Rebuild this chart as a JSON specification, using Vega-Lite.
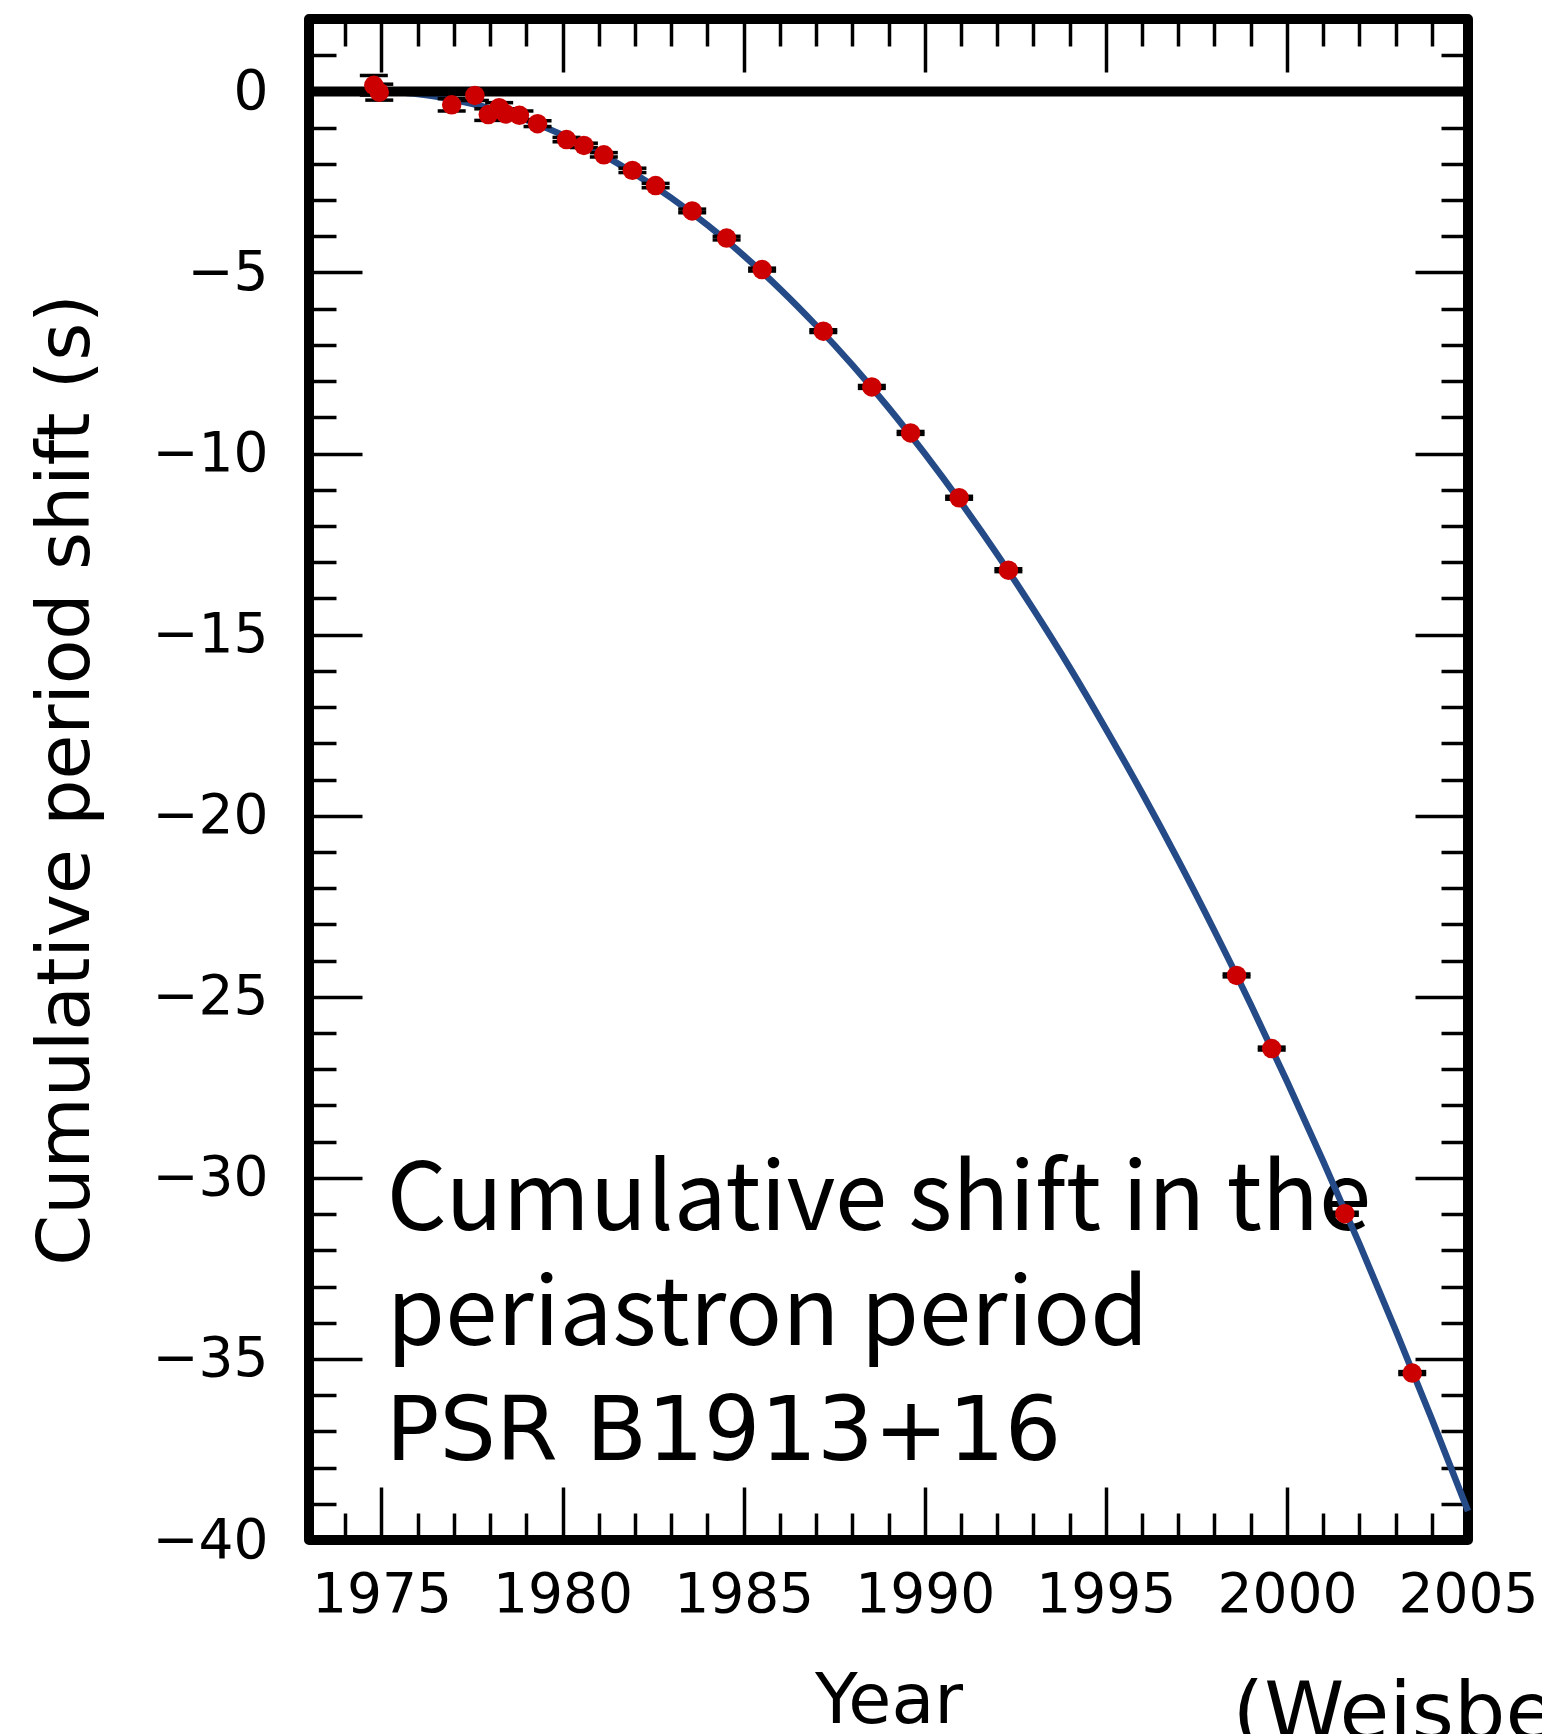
{
  "$schema": "https://vega.github.io/schema/vega-lite/v6.json",
  "width": 1159,
  "height": 1521,
  "autosize": {"type": "none"},
  "padding": {"left": 309, "top": 19, "right": 74, "bottom": 194},
  "background": "white",
  "config": {
    "view": {"stroke": "black", "strokeWidth": 10, "strokeJoin": "round"},
    "axis": {
      "grid": false,
      "domain": false,
      "tickColor": "black",
      "tickWidth": 3.5,
      "labelFont": "DejaVu Sans",
      "labelFontSize": 55,
      "labelColor": "black",
      "titleFont": "DejaVu Sans",
      "titleFontWeight": "normal",
      "titleColor": "black",
      "labelOverlap": false,
      "labelFlush": false
    }
  },
  "datasets": {
    "points": [
      {"year": 1974.79, "shift": 0.17, "lo": -0.10, "hi": 0.44},
      {"year": 1974.94, "shift": -0.02, "lo": -0.24, "hi": 0.20},
      {"year": 1976.94, "shift": -0.37, "lo": -0.54, "hi": -0.20},
      {"year": 1977.58, "shift": -0.11, "lo": -0.25, "hi": 0.03},
      {"year": 1977.95, "shift": -0.64, "lo": -0.80, "hi": -0.48},
      {"year": 1978.25, "shift": -0.45, "lo": -0.59, "hi": -0.31},
      {"year": 1978.43, "shift": -0.62, "lo": -0.76, "hi": -0.48},
      {"year": 1978.81, "shift": -0.66, "lo": -0.78, "hi": -0.54},
      {"year": 1979.31, "shift": -0.89, "lo": -0.97, "hi": -0.81},
      {"year": 1980.11, "shift": -1.33, "lo": -1.39, "hi": -1.27},
      {"year": 1980.59, "shift": -1.49, "lo": -1.55, "hi": -1.43},
      {"year": 1981.14, "shift": -1.75, "lo": -1.81, "hi": -1.69},
      {"year": 1981.93, "shift": -2.18, "lo": -2.24, "hi": -2.12},
      {"year": 1982.57, "shift": -2.60, "lo": -2.66, "hi": -2.54},
      {"year": 1983.58, "shift": -3.30, "lo": -3.35, "hi": -3.25},
      {"year": 1984.53, "shift": -4.05, "lo": -4.10, "hi": -4.00},
      {"year": 1985.51, "shift": -4.92, "lo": -4.96, "hi": -4.88},
      {"year": 1987.20, "shift": -6.62, "lo": -6.66, "hi": -6.58},
      {"year": 1988.54, "shift": -8.16, "lo": -8.20, "hi": -8.12},
      {"year": 1989.61, "shift": -9.43, "lo": -9.47, "hi": -9.39},
      {"year": 1990.95, "shift": -11.22, "lo": -11.26, "hi": -11.18},
      {"year": 1992.31, "shift": -13.22, "lo": -13.26, "hi": -13.18},
      {"year": 1998.61, "shift": -24.41, "lo": -24.45, "hi": -24.37},
      {"year": 1999.58, "shift": -26.43, "lo": -26.47, "hi": -26.39},
      {"year": 2001.60, "shift": -30.99, "lo": -31.03, "hi": -30.95},
      {"year": 2003.46, "shift": -35.39, "lo": -35.43, "hi": -35.35}
    ],
    "curve": [
      {"year": 1974.8, "shift": 0.0},
      {"year": 1975.5, "shift": -0.03},
      {"year": 1976, "shift": -0.07},
      {"year": 1977, "shift": -0.23},
      {"year": 1978, "shift": -0.47},
      {"year": 1979, "shift": -0.79},
      {"year": 1980, "shift": -1.2},
      {"year": 1981, "shift": -1.69},
      {"year": 1982, "shift": -2.28},
      {"year": 1983, "shift": -2.94},
      {"year": 1984, "shift": -3.69},
      {"year": 1985, "shift": -4.53},
      {"year": 1986, "shift": -5.45},
      {"year": 1987, "shift": -6.46},
      {"year": 1988, "shift": -7.55},
      {"year": 1989, "shift": -8.73},
      {"year": 1990, "shift": -10.0},
      {"year": 1991, "shift": -11.35},
      {"year": 1992, "shift": -12.78},
      {"year": 1993, "shift": -14.3},
      {"year": 1994, "shift": -15.9},
      {"year": 1995, "shift": -17.6},
      {"year": 1996, "shift": -19.37},
      {"year": 1997, "shift": -21.23},
      {"year": 1998, "shift": -23.18},
      {"year": 1999, "shift": -25.21},
      {"year": 2000, "shift": -27.33},
      {"year": 2001, "shift": -29.54},
      {"year": 2002, "shift": -31.82},
      {"year": 2003, "shift": -34.2},
      {"year": 2004, "shift": -36.66},
      {"year": 2005, "shift": -39.2}
    ],
    "note": [{"label": "Cumulative shift in the\nperiastron period"}],
    "note2": [{"label": "PSR B1913+16"}],
    "source": [{"label": "(Weisberg & Taylor 2005)"}],
    "zero": [{"level": 0}]
  },
  "layer": [
    {
      "data": {"name": "note"},
      "mark": {"type": "text", "align": "left", "baseline": "alphabetic", "font": "Noto Sans CJK JP", "fontSize": 94, "lineHeight": 115, "lineBreak": "\n", "color": "black"},
      "encoding": {
        "x": {"datum": 1975.15, "type": "quantitative", "axis": null},
        "y": {"datum": -31.45, "type": "quantitative", "axis": null},
        "text": {"field": "label", "type": "nominal"}
      }
    },
    {
      "data": {"name": "note2"},
      "mark": {"type": "text", "align": "left", "baseline": "alphabetic", "font": "DejaVu Sans", "fontSize": 89, "color": "black"},
      "encoding": {
        "x": {"datum": 1975.12, "type": "quantitative", "axis": null},
        "y": {"datum": -37.8, "type": "quantitative", "axis": null},
        "text": {"field": "label", "type": "nominal"}
      }
    },
    {
      "data": {"name": "curve"},
      "mark": {"type": "line", "color": "#244b87", "strokeWidth": 6.5, "interpolate": "monotone"},
      "encoding": {
        "x": {
          "field": "year", "type": "quantitative",
          "scale": {"domain": [1973, 2005], "nice": false, "zero": false},
          "axis": {
            "orient": "bottom",
            "values": [1973,1974,1975,1976,1977,1978,1979,1980,1981,1982,1983,1984,1985,1986,1987,1988,1989,1990,1991,1992,1993,1994,1995,1996,1997,1998,1999,2000,2001,2002,2003,2004,2005],
            "format": "d",
            "tickSize": {"condition": {"test": "datum.value % 5 === 0", "value": -53}, "value": -27},
            "labelExpr": "datum.value % 5 === 0 ? datum.label : ''",
            "labelPadding": 81,
            "title": "Year",
            "titleFontSize": 70,
            "titlePadding": 19
          }
        },
        "y": {
          "field": "shift", "type": "quantitative",
          "scale": {"domain": [-40, 2], "nice": false, "zero": false},
          "axis": {
            "orient": "left",
            "values": [-40,-39,-38,-37,-36,-35,-34,-33,-32,-31,-30,-29,-28,-27,-26,-25,-24,-23,-22,-21,-20,-19,-18,-17,-16,-15,-14,-13,-12,-11,-10,-9,-8,-7,-6,-5,-4,-3,-2,-1,0,1,2],
            "format": "d",
            "tickSize": {"condition": {"test": "datum.value % 5 === 0", "value": -53}, "value": -27},
            "labelExpr": "datum.value % 5 === 0 ? datum.label : ''",
            "labelPadding": 94,
            "title": "Cumulative period shift (s)",
            "titleFontSize": 73,
            "titlePadding": 48
          }
        }
      }
    },
    {
      "data": {"name": "zero"},
      "mark": {"type": "rule", "color": "black", "strokeWidth": 10},
      "encoding": {
        "y": {"field": "level", "type": "quantitative", "axis": null}
      }
    },
    {
      "data": {"name": "points"},
      "mark": {"type": "rule", "color": "black", "strokeWidth": 3},
      "encoding": {
        "x": {
          "field": "year", "type": "quantitative",
          "axis": {
            "orient": "top",
            "values": [1973,1974,1975,1976,1977,1978,1979,1980,1981,1982,1983,1984,1985,1986,1987,1988,1989,1990,1991,1992,1993,1994,1995,1996,1997,1998,1999,2000,2001,2002,2003,2004,2005],
            "tickSize": {"condition": {"test": "datum.value % 5 === 0", "value": -53}, "value": -27},
            "labels": false,
            "title": null
          }
        },
        "y": {
          "field": "lo", "type": "quantitative",
          "axis": {
            "orient": "right",
            "values": [-40,-39,-38,-37,-36,-35,-34,-33,-32,-31,-30,-29,-28,-27,-26,-25,-24,-23,-22,-21,-20,-19,-18,-17,-16,-15,-14,-13,-12,-11,-10,-9,-8,-7,-6,-5,-4,-3,-2,-1,0,1,2],
            "tickSize": {"condition": {"test": "datum.value % 5 === 0", "value": -53}, "value": -27},
            "labels": false,
            "title": null
          }
        },
        "y2": {"field": "hi"}
      }
    },
    {
      "data": {"name": "points"},
      "mark": {"type": "tick", "orient": "horizontal", "color": "black", "size": 28, "thickness": 3.5, "opacity": 1},
      "encoding": {
        "x": {"field": "year", "type": "quantitative", "axis": null},
        "y": {"field": "lo", "type": "quantitative", "axis": null}
      }
    },
    {
      "data": {"name": "points"},
      "mark": {"type": "tick", "orient": "horizontal", "color": "black", "size": 28, "thickness": 3.5, "opacity": 1},
      "encoding": {
        "x": {"field": "year", "type": "quantitative", "axis": null},
        "y": {"field": "hi", "type": "quantitative", "axis": null}
      }
    },
    {
      "data": {"name": "points"},
      "mark": {"type": "circle", "color": "#cc0000", "size": 380, "opacity": 1},
      "encoding": {
        "x": {"field": "year", "type": "quantitative", "axis": null},
        "y": {"field": "shift", "type": "quantitative", "axis": null}
      }
    },
    {
      "data": {"name": "source"},
      "mark": {"type": "text", "align": "left", "baseline": "alphabetic", "font": "DejaVu Sans", "fontSize": 81, "color": "black"},
      "encoding": {
        "x": {"datum": 1998.5, "type": "quantitative", "axis": null},
        "y": {"datum": -45.5, "type": "quantitative", "axis": null},
        "text": {"field": "label", "type": "nominal"}
      }
    }
  ],
  "resolve": {"axis": {"x": "independent", "y": "independent"}}
}
